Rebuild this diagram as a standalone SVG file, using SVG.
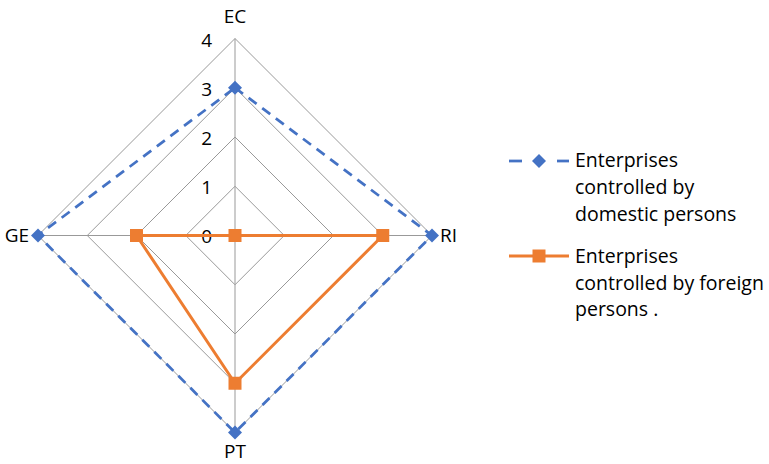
<svg xmlns="http://www.w3.org/2000/svg" width="769" height="464" viewBox="0 0 769 464">
<style>
text{font-family:"Open Sans","Liberation Sans",sans-serif;font-size:19px;fill:#000}
.leg text{font-size:19.5px}
.grid{fill:none;stroke:#999999;stroke-width:1}
.dom{fill:none;stroke:#4472C4;stroke-width:2.75;stroke-dasharray:10,7}
.for{fill:none;stroke:#ED7D31;stroke-width:3;stroke-linejoin:round}
.tick{text-anchor:end}
</style>
<defs>
<path id="dia" d="M0,-7L7,0L0,7L-7,0Z" fill="#4472C4"/>
<path id="sq" d="M-6.5,-6.5h13v13h-13z" fill="#ED7D31"/>
</defs>
<rect width="769" height="464" fill="#fff"/>
<g id="grid">
<polygon class="grid" points="235,186.25 284.25,235.5 235,284.75 185.75,235.5"/>
<polygon class="grid" points="235,137 333.5,235.5 235,334 136.5,235.5"/>
<polygon class="grid" points="235,87.75 382.75,235.5 235,383.25 87.25,235.5"/>
<polygon class="grid" points="235,38.5 432,235.5 235,432.5 38,235.5"/>
<line class="grid" x1="235" y1="38.5" x2="235" y2="432.5"/>
<line class="grid" x1="38" y1="235.5" x2="432" y2="235.5"/>
</g>
<g id="ticks">
<text class="tick" x="212" y="47">4</text>
<text class="tick" x="212" y="96">3</text>
<text class="tick" x="212" y="145">2</text>
<text class="tick" x="212" y="194">1</text>
<text class="tick" x="212" y="243">0</text>
</g>
<g id="axis-labels">
<text id="EC" x="235" y="23" text-anchor="middle">EC</text>
<text id="RI" x="440" y="242">RI</text>
<text id="PT" x="235" y="458" text-anchor="middle">PT</text>
<text id="GE" x="29" y="242" text-anchor="end">GE</text>
</g>
<g id="connectors">
<polygon id="domestic" class="dom" points="235,87.75 432,235.5 235,432.5 38,235.5"/>
<polygon id="foreign" class="for" points="235,235.5 382.75,235.5 235,383.25 136.5,235.5"/>
</g>
<g id="markers">
<use href="#dia" x="235" y="87.75"/>
<use href="#dia" x="432" y="235.5"/>
<use href="#dia" x="235" y="432.5"/>
<use href="#dia" x="38" y="235.5"/>
<use href="#sq" x="235" y="235.5"/>
<use href="#sq" x="382.75" y="235.5"/>
<use href="#sq" x="235" y="383.25"/>
<use href="#sq" x="136.5" y="235.5"/>
</g>
<g id="legend" class="leg">
<g id="legend-domestic">
<line x1="509" y1="161" x2="522" y2="161" stroke="#4472C4" stroke-width="2.75"/>
<line x1="557" y1="161" x2="569" y2="161" stroke="#4472C4" stroke-width="2.75"/>
<use href="#dia" x="539" y="161"/>
<text x="575" y="167">Enterprises</text>
<text x="575" y="194">controlled by</text>
<text x="575" y="221">domestic persons</text>
</g>
<g id="legend-foreign">
<line x1="509" y1="256" x2="569" y2="256" stroke="#ED7D31" stroke-width="3"/>
<use href="#sq" x="539" y="256"/>
<text x="575" y="263">Enterprises</text>
<text x="575" y="290">controlled by foreign</text>
<text x="575" y="316">persons .</text>
</g>
</g>
</svg>
